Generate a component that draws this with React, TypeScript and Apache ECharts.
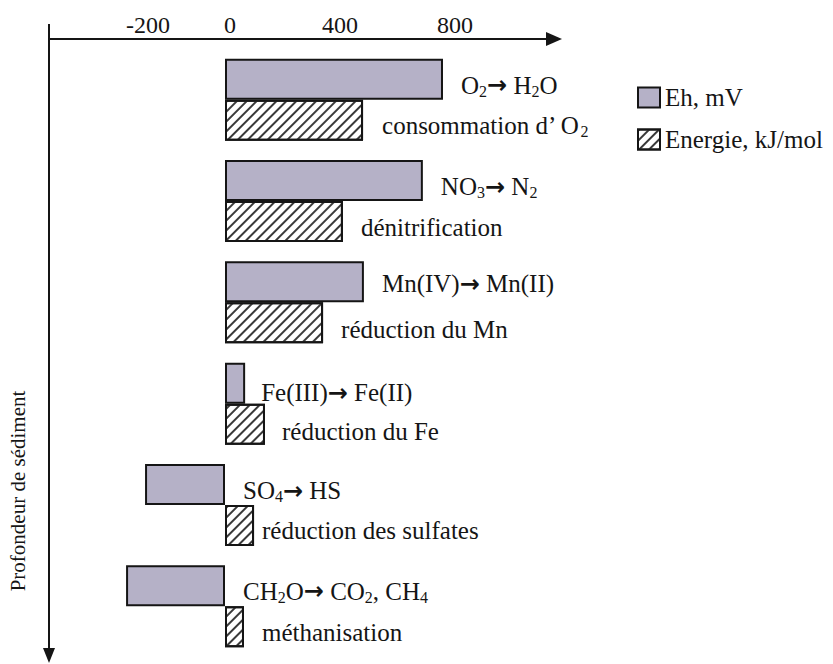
import React, { useEffect, useRef } from 'react';
import * as echarts from 'echarts';

// ---- data ----
const categories = ['O2', 'NO3', 'Mn', 'Fe', 'SO4', 'CH2O'];
const ehValues = [758, 688, 483, 70, -278, -344];
const energyValues = [480, 410, 341, 139, 101, 66];
const ehLabels = ['O_2→ H_2O', 'NO_3→ N_2', 'Mn(IV)→ Mn(II)', 'Fe(III)→ Fe(II)', 'SO_4→ HS', 'CH_2O→ CO_2, CH_4'];
const energyLabels = ['consommation d’ O_2', 'dénitrification', 'réduction du Mn', 'réduction du Fe', 'réduction des sulfates', 'méthanisation'];
const tickLabels = [-200, 0, 400, 800];
const seriesNames = ['Eh, mV', 'Energie, kJ/mol'];
const depthTitle = 'Profondeur de sédiment';

// ---- label placement tweaks (style only) ----
const ehLabelDy = [6, 6, 2, 9.5, 6, 5.5];
const ehLabelDist = [18, 18, 18, 16, 18, 18];
const enLabelDy = [5, 6, 7, 7, 5, 5.5];
const enLabelDist = [19, 18, 18, 17, 8, 18];

const FONT = "'Liberation Serif', 'Times New Roman', Times, serif";
const INK = '#151515';
const FS = 25;

const fmt = (t: string) => t.replace(/_(\d)/g, '{s|$1}').replace(/→/g, '{a|→}');

export default function App() {
  const ref = useRef<HTMLDivElement>(null);
  useEffect(() => {
    if (!ref.current) return;
    const chart = echarts.init(ref.current, null, { renderer: 'svg' });
    const rich = {
      s: { fontSize: 16, lineHeight: 16, verticalAlign: 'bottom', fontFamily: FONT, color: INK },
      a: { fontSize: 24, fontFamily: "'DejaVu Sans', sans-serif", fontWeight: 'bold', color: INK },
    };
    const labelBase = {
      show: true,
      position: 'right',
      fontSize: FS,
      lineHeight: 28,
      color: INK,
      fontFamily: FONT,
      rich,
    };
    const option: any = {
      animation: false,
      backgroundColor: '#ffffff',
      textStyle: { fontFamily: FONT, color: INK },
      grid: { left: 49, right: 279, top: 49, bottom: 7, containLabel: false },
      legend: {
        orient: 'vertical',
        left: 637,
        top: 85,
        padding: 0,
        icon: 'rect',
        itemWidth: 22,
        itemHeight: 20,
        itemGap: 17,
        textStyle: { fontFamily: FONT, fontSize: FS, color: INK, lineHeight: 24 },
        data: seriesNames,
      },
      xAxis: {
        type: 'value',
        position: 'top',
        offset: 10,
        min: -612,
        max: 1144,
        minInterval: 200,
        maxInterval: 200,
        axisLine: {
          show: true,
          onZero: false,
          symbol: ['none', 'triangle'],
          symbolSize: [14, 16],
          lineStyle: { color: INK, width: 2 },
        },
        axisTick: { show: false },
        splitLine: { show: false },
        axisLabel: {
          margin: 2,
          fontSize: 24,
          color: INK,
          fontFamily: FONT,
          showMinLabel: false,
          showMaxLabel: false,
          formatter: (v: number) => {
            if (!tickLabels.includes(v)) return '';
            if (v === -200) return '{l|-200}';
            if (v === 0) return '{r|0}';
            return String(v);
          },
          rich: {
            l: { padding: [0, 39, 0, 0], fontSize: 24, fontFamily: FONT, color: INK },
            r: { padding: [0, 0, 0, 10], fontSize: 24, fontFamily: FONT, color: INK },
          },
        },
      },
      yAxis: {
        type: 'category',
        data: categories,
        inverse: true,
        show: false,
      },
      series: [
        {
          name: seriesNames[0],
          type: 'bar',
          barWidth: 41,
          barGap: '0%',
          itemStyle: { color: '#b5b1c7', borderColor: INK, borderWidth: 2 },
          label: { ...labelBase, formatter: (p: any) => fmt(ehLabels[p.dataIndex]) },
          data: ehValues.map((v, i) => ({
            value: v,
            label: { offset: [0, ehLabelDy[i]], distance: ehLabelDist[i] },
          })),
        },
        {
          name: seriesNames[1],
          type: 'bar',
          barWidth: 41,
          barGap: '0%',
          itemStyle: {
            color: '#ffffff',
            borderColor: INK,
            borderWidth: 2,
            decal: {
              symbol: 'rect',
              symbolSize: 1,
              dashArrayX: [1, 0],
              dashArrayY: [1.5, 4.5],
              rotation: -Math.PI / 4,
              color: '#3a3a3a',
            },
          },
          label: { ...labelBase, formatter: (p: any) => fmt(energyLabels[p.dataIndex]) },
          data: energyValues.map((v, i) => ({
            value: v,
            label: { offset: [0, enLabelDy[i]], distance: enLabelDist[i] },
          })),
        },
      ],
      graphic: [
        {
          type: 'line',
          shape: { x1: 49, y1: 24, x2: 49, y2: 652 },
          style: { stroke: INK, lineWidth: 2 },
        },
        {
          type: 'polygon',
          shape: { points: [[43, 648], [55, 648], [49, 663]] },
          style: { fill: INK },
        },
        {
          type: 'text',
          x: 18,
          y: 491,
          rotation: Math.PI / 2,
          style: {
            text: depthTitle,
            fontSize: 21,
            fontFamily: FONT,
            fill: INK,
            align: 'center',
            verticalAlign: 'middle',
          },
        },
      ],
    };
    chart.setOption(option);
    return () => chart.dispose();
  }, []);
  return (
    <div
      ref={ref}
      style={{ position: 'absolute', left: 0, top: 0, width: 833, height: 664 }}
    />
  );
}
